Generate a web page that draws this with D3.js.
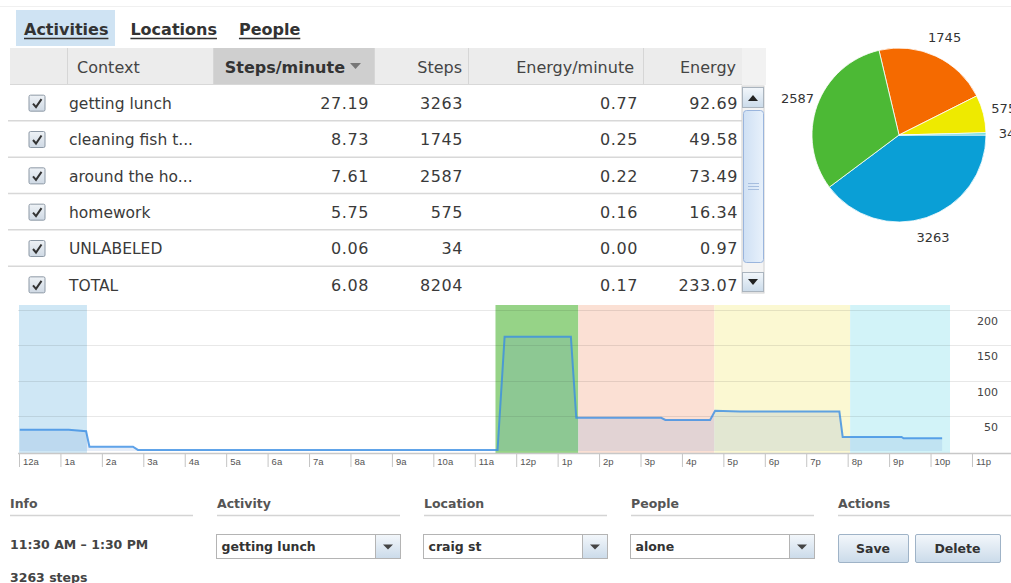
<!DOCTYPE html>
<html>
<head>
<meta charset="utf-8">
<script src="https://cdnjs.cloudflare.com/ajax/libs/d3/7.8.5/d3.min.js"></script>
<style>
  body { margin: 0; background: #fff; }
  svg { display: block; font-family: 'DejaVu Sans', sans-serif; }
</style>
</head>
<body>
<script>
// ---- data ----
const tabs = ['Activities', 'Locations', 'People']
const columns = ['Context', 'Steps/minute', 'Steps', 'Energy/minute', 'Energy']
const contexts = ['getting lunch', 'cleaning fish t...', 'around the ho...', 'homework', 'UNLABELED', 'TOTAL']
const stepsPerMinute = ['27.19', '8.73', '7.61', '5.75', '0.06', '6.08']
const steps = [3263, 1745, 2587, 575, 34, 8204]
const energyPerMinute = ['0.77', '0.25', '0.22', '0.16', '0.00', '0.17']
const energy = ['92.69', '49.58', '73.49', '16.34', '0.97', '233.07']
const pieColors = ['#0a9fd6', '#f56a00', '#4cb935', '#eeea00', '#4fd3d6']

const hourLabels = ['12a', '1a', '2a', '3a', '4a', '5a', '6a', '7a', '8a', '9a', '10a', '11a',
                    '12p', '1p', '2p', '3p', '4p', '5p', '6p', '7p', '8p', '9p', '10p', '11p']
const yTicks = [50, 100, 150, 200]
const bandStart = [0, 11.5, 13.5, 16.78, 20.06]
const bandEnd = [1.64, 13.5, 16.78, 20.06, 22.47]
const bandColors = ['#cfe7f5', '#96d387', '#fbe0d4', '#fbf8d2', '#d2f3f8']
const lineHours = [0.02, 1.2, 1.62, 1.7, 2.75, 2.87, 11.55, 11.72, 13.32, 13.45, 15.5, 15.6, 16.68, 16.8, 17.4, 19.8, 19.88, 21.3, 21.35, 22.28]
const lineRate = [30, 30, 28, 6, 6, 1.5, 1.5, 162, 162, 47, 47, 44, 44, 57, 56, 56, 20, 20, 18, 18]

const formSections = ['Info', 'Activity', 'Location', 'People', 'Actions']
const dropdownValues = ['getting lunch', 'craig st', 'alone']
const infoLines = ['11:30 AM \u2013 1:30 PM', '3263 steps']
const buttons = ['Save', 'Delete']

// ---- svg ----
const width = 1011
const height = 583
const textColor = '#3a3a3a'

let svg = d3.select('body').append('svg')
    .attr('width', width)
    .attr('height', height)

let defs = svg.append('defs')
let grad = defs.append('linearGradient').attr('id', 'btn').attr('x1', 0).attr('x2', 0).attr('y1', 0).attr('y2', 1)
grad.append('stop').attr('offset', '0%').attr('stop-color', '#f3f7fb')
grad.append('stop').attr('offset', '100%').attr('stop-color', '#cbdbea')
let cbGrad = defs.append('linearGradient').attr('id', 'cb').attr('x1', 0).attr('x2', 0).attr('y1', 0).attr('y2', 1)
cbGrad.append('stop').attr('offset', '0%').attr('stop-color', '#eef2f6')
cbGrad.append('stop').attr('offset', '100%').attr('stop-color', '#cfd9e4')
let thumbGrad = defs.append('linearGradient').attr('id', 'thumb').attr('x1', 0).attr('x2', 1).attr('y1', 0).attr('y2', 0)
thumbGrad.append('stop').attr('offset', '0%').attr('stop-color', '#cfe0f4')
thumbGrad.append('stop').attr('offset', '100%').attr('stop-color', '#e8f1fb')

svg.append('line')
    .attr('x1', 0).attr('x2', width).attr('y1', 6.5).attr('y2', 6.5)
    .attr('stroke', '#f0f0f0')

// ---- tabs ----
svg.append('rect')
    .attr('x', 16).attr('y', 10).attr('width', 99).attr('height', 36)
    .attr('fill', '#cfe3f3')

let tabX = 24
tabs.forEach((t) => {
    let txt = svg.append('text')
        .attr('x', tabX).attr('y', 35)
        .attr('font-size', 16).attr('font-weight', 'bold')
        .attr('fill', '#333')
        .text(t)
    let w = txt.node().getComputedTextLength()
    svg.append('line')
        .attr('x1', tabX).attr('x2', tabX + w)
        .attr('y1', 38.5).attr('y2', 38.5)
        .attr('stroke', '#333').attr('stroke-width', 1.3)
    tabX += w + 22
})

// ---- table ----
const colEdges = [10, 67, 213, 374, 468, 643, 742]
const headerTop = 48
const headerBottom = 85

let rows = d3.scaleBand()
    .domain(contexts)
    .range([headerBottom, 303])

svg.append('rect')
    .attr('x', colEdges[0]).attr('y', headerTop)
    .attr('width', colEdges[6] - colEdges[0]).attr('height', headerBottom - headerTop)
    .attr('fill', '#ececec')
svg.append('rect')
    .attr('x', colEdges[2]).attr('y', headerTop)
    .attr('width', colEdges[3] - colEdges[2]).attr('height', headerBottom - headerTop)
    .attr('fill', '#cfcfcf')
svg.append('rect')
    .attr('x', colEdges[6]).attr('y', headerTop)
    .attr('width', 24).attr('height', headerBottom - headerTop)
    .attr('fill', '#f2f2f2')
svg.selectAll('.coldiv')
    .data(colEdges.slice(1, 6))
    .enter().append('line')
    .attr('x1', (d) => d + 0.5).attr('x2', (d) => d + 0.5)
    .attr('y1', headerTop).attr('y2', headerBottom)
    .attr('stroke', '#d6d6d6')
svg.append('line')
    .attr('x1', colEdges[0]).attr('x2', colEdges[6])
    .attr('y1', headerBottom - 0.5).attr('y2', headerBottom - 0.5)
    .attr('stroke', '#d8d8d8')

// header labels
let header = svg.append('g').attr('font-size', 16).attr('fill', '#444')
header.append('text')
    .attr('x', 77).attr('y', 73)
    .text(columns[0])
header.append('text')
    .attr('x', 345).attr('y', 73).attr('text-anchor', 'end')
    .attr('font-weight', 'bold').attr('fill', '#333')
    .text(columns[1])
header.append('path')
    .attr('d', 'M350,63 L361,63 L355.5,69 Z')
    .attr('fill', '#777')
const headerRight = [462, 634, 736]
columns.slice(2).forEach((c, i) => {
    header.append('text')
        .attr('x', headerRight[i]).attr('y', 73).attr('text-anchor', 'end')
        .text(c)
})

// body rows
let row = svg.selectAll('.row')
    .data(contexts)
    .enter().append('g')
    .attr('class', 'row')
    .attr('transform', (d) => `translate(0, ${rows(d)})`)

row.append('line')
    .attr('x1', colEdges[0] - 2).attr('x2', colEdges[6])
    .attr('y1', rows.bandwidth() - 0.5).attr('y2', rows.bandwidth() - 0.5)
    .attr('stroke', (d, i) => i === contexts.length - 1 ? 'none' : '#d8d8d8')
    .attr('stroke-width', 1.5)

row.append('rect')
    .attr('x', 29).attr('y', rows.bandwidth() / 2 - 8)
    .attr('width', 16).attr('height', 16).attr('rx', 1.5)
    .attr('fill', 'url(#cb)').attr('stroke', '#8c98a5')
row.append('path')
    .attr('d', (d) => {
        let c = rows.bandwidth() / 2
        return `M33,${c + 0.5} L36,${c + 4} L41.5,${c - 4}`
    })
    .attr('fill', 'none').attr('stroke', '#333').attr('stroke-width', 2)

row.append('text')
    .attr('x', 69).attr('y', rows.bandwidth() / 2 + 6)
    .attr('font-size', 15.5).attr('fill', textColor)
    .text((d) => d)

const valueColumns = [stepsPerMinute, steps, energyPerMinute, energy]
const valueRight = [369, 463, 638, 738]
valueColumns.forEach((vals, ci) => {
    row.append('text')
        .attr('x', valueRight[ci]).attr('y', rows.bandwidth() / 2 + 6)
        .attr('text-anchor', 'end')
        .attr('font-size', 16).attr('fill', textColor)
        .attr('letter-spacing', 0.6)
        .text((d, i) => vals[i])
})

// scrollbar
let sb = svg.append('g')
sb.append('rect').attr('x', 742).attr('y', 86).attr('width', 22).attr('height', 207)
    .attr('fill', '#f4f4f4').attr('stroke', '#d0d0d0')
sb.append('rect').attr('x', 742.5).attr('y', 87.5).attr('width', 21).attr('height', 20)
    .attr('fill', 'url(#btn)').attr('stroke', '#aab4be')
sb.append('path').attr('d', 'M748,101 L758,101 L753,95 Z').attr('fill', '#222')
sb.append('rect').attr('x', 743.5).attr('y', 110.5).attr('width', 20).attr('height', 152).attr('rx', 3)
    .attr('fill', 'url(#thumb)').attr('stroke', '#9ab5dd')
sb.selectAll('.grip')
    .data([-3, 0, 3])
    .enter().append('line')
    .attr('x1', 748).attr('x2', 759)
    .attr('y1', (d) => 186.5 + d).attr('y2', (d) => 186.5 + d)
    .attr('stroke', '#a6bedf')
sb.append('rect').attr('x', 742.5).attr('y', 272.5).attr('width', 21).attr('height', 19)
    .attr('fill', 'url(#btn)').attr('stroke', '#aab4be')
sb.append('path').attr('d', 'M748,279 L758,279 L753,285 Z').attr('fill', '#222')

// ---- pie ----
const pieCenter = [899, 135]
const pieRadius = 87

let slices = contexts.slice(0, 5).map((c, i) => ({ context: c, steps: steps[i], color: pieColors[i] }))

let pie = d3.pie()
    .value((d) => d.steps)
    .startAngle(Math.PI / 2)
    .endAngle(Math.PI / 2 + 2 * Math.PI)

let arc = d3.arc().innerRadius(0).outerRadius(pieRadius)
let labelArc = d3.arc().innerRadius(108).outerRadius(108)

let pieG = svg.append('g')
    .attr('transform', `translate(${pieCenter[0]}, ${pieCenter[1]})`)

pieG.selectAll('.slice')
    .data(pie(slices))
    .enter().append('path')
    .attr('class', 'slice')
    .attr('d', arc)
    .attr('fill', (d) => d.data.color)
    .attr('stroke', '#fff').attr('stroke-width', 0.8)

pieG.selectAll('.plabel')
    .data(pie(slices))
    .enter().append('text')
    .attr('transform', (d) => `translate(${labelArc.centroid(d)})`)
    .attr('text-anchor', 'middle').attr('dy', '0.35em')
    .attr('font-size', 13).attr('fill', '#333')
    .text((d) => d.data.steps)

// ---- timeline chart ----
const plotTop = 305
const axisY = 453

let x = d3.scaleLinear()
    .domain([0, 24])
    .range([19, 1013.4])

let y = d3.scaleLinear()
    .domain([0, 200])
    .range([451, 310])

let chart = svg.append('g')

chart.selectAll('.band')
    .data(bandStart)
    .enter().append('rect')
    .attr('class', 'band')
    .attr('x', (d) => x(d))
    .attr('y', plotTop)
    .attr('width', (d, i) => x(bandEnd[i]) - x(d))
    .attr('height', axisY - plotTop)
    .attr('fill', (d, i) => bandColors[i])

chart.selectAll('.grid')
    .data(yTicks)
    .enter().append('line')
    .attr('x1', 18).attr('x2', width)
    .attr('y1', (d) => Math.round(y(d)) + 0.5).attr('y2', (d) => Math.round(y(d)) + 0.5)
    .attr('stroke', 'rgba(0,0,0,0.09)')

chart.selectAll('.ylabel')
    .data(yTicks)
    .enter().append('text')
    .attr('x', 998).attr('y', (d) => y(d) + 15)
    .attr('text-anchor', 'end')
    .attr('font-size', 11).attr('fill', '#444')
    .text((d) => d)

let points = lineHours.map((h, i) => [h, lineRate[i]])

let area = d3.area()
    .x((d) => x(d[0]))
    .y0(y(0))
    .y1((d) => y(d[1]))

let line = d3.line()
    .x((d) => x(d[0]))
    .y((d) => y(d[1]))

chart.append('path')
    .datum(points)
    .attr('d', area)
    .attr('fill', 'rgba(100,145,210,0.16)')

chart.append('path')
    .datum(points)
    .attr('d', line)
    .attr('fill', 'none')
    .attr('stroke', '#3a8de4')
    .attr('stroke-opacity', 0.8)
    .attr('stroke-width', 2)

let xAxis = d3.axisBottom(x)
    .tickValues(d3.range(0, 24))
    .tickFormat((d, i) => hourLabels[i])
    .tickSize(14)
    .tickPadding(0)

let axisG = chart.append('g')
    .attr('transform', `translate(0, ${axisY})`)
    .call(xAxis)
axisG.select('.domain').remove()
axisG.selectAll('.tick line').attr('stroke', '#c4c4c4')
axisG.selectAll('.tick text')
    .attr('text-anchor', 'start')
    .attr('x', 3.5).attr('y', 12).attr('dy', 0)
    .attr('font-family', 'Liberation Sans, sans-serif')
    .attr('font-size', 9.5).attr('fill', '#555')

chart.append('line')
    .attr('x1', 18).attr('x2', width)
    .attr('y1', axisY + 0.5).attr('y2', axisY + 0.5)
    .attr('stroke', '#c8c8c8').attr('stroke-width', 1.5)

// ---- form ----
let form = svg.append('g')
let sectionX = d3.scaleBand()
    .domain(formSections)
    .range([10, 10 + 207 * 5])

form.selectAll('.shead')
    .data(formSections)
    .enter().append('text')
    .attr('x', (d) => sectionX(d)).attr('y', 508)
    .attr('font-size', 12.5).attr('font-weight', 'bold').attr('fill', '#555')
    .text((d) => d)

form.selectAll('.sline')
    .data(formSections)
    .enter().append('line')
    .attr('x1', (d) => sectionX(d))
    .attr('x2', (d, i) => i === formSections.length - 1 ? width : sectionX(d) + 183)
    .attr('y1', 515.5).attr('y2', 515.5)
    .attr('stroke', '#d4d4d4').attr('stroke-width', 1.5)

form.selectAll('.info')
    .data(infoLines)
    .enter().append('text')
    .attr('x', 10).attr('y', (d, i) => 549 + i * 33)
    .attr('font-size', 12.5).attr('font-weight', 'bold').attr('fill', '#444')
    .text((d) => d)

let dd = form.selectAll('.dropdown')
    .data(dropdownValues)
    .enter().append('g')
    .attr('transform', (d, i) => `translate(${sectionX(formSections[i + 1]) - 0.5}, 534.5)`)
dd.append('rect')
    .attr('width', 184).attr('height', 24)
    .attr('fill', '#fff').attr('stroke', '#b4b4b4')
dd.append('rect')
    .attr('x', 159).attr('width', 25).attr('height', 24)
    .attr('fill', 'url(#btn)').attr('stroke', '#b4b4b4')
dd.append('path')
    .attr('d', 'M166.5,10 L176.5,10 L171.5,15 Z')
    .attr('fill', '#444')
dd.append('text')
    .attr('x', 5).attr('y', 16.5)
    .attr('font-size', 12.5).attr('font-weight', 'bold').attr('fill', '#333')
    .text((d) => d)

const buttonWidths = [70, 85]
let bx = sectionX('Actions')
buttons.forEach((b, i) => {
    form.append('rect')
        .attr('x', bx + 0.5).attr('y', 534.5)
        .attr('width', buttonWidths[i]).attr('height', 28).attr('rx', 1.5)
        .attr('fill', 'url(#btn)').attr('stroke', '#9fb3c7')
    form.append('text')
        .attr('x', bx + buttonWidths[i] / 2).attr('y', 553)
        .attr('text-anchor', 'middle')
        .attr('font-size', 12.5).attr('font-weight', 'bold').attr('fill', '#333')
        .text(b)
    bx += buttonWidths[i] + 7
})
</script>
</body>
</html>
